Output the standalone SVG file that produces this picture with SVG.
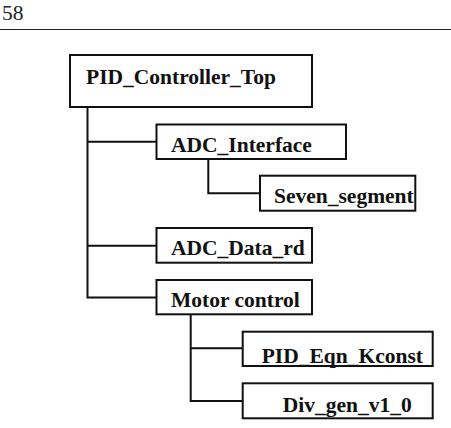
<svg xmlns="http://www.w3.org/2000/svg" width="451" height="428" viewBox="0 0 451 428">
<style>
.box{fill:#fff;stroke:#111;stroke-width:2}
.lbl{font-family:"Liberation Serif","Times New Roman",serif;font-weight:bold;font-size:21.5px;fill:#111}
.con{fill:none;stroke:#111;stroke-width:2}
</style>
<rect width="451" height="428" fill="#fff"/>
<text x="2" y="20" font-family="Liberation Serif,serif" font-size="21.5" fill="#222">58</text>
<line x1="0" y1="29.5" x2="451" y2="29.5" stroke="#222" stroke-width="1"/>
<g id="connectors">
<path class="con" d="M87.5 107 V297.5 H156.5 M87.5 141.7 H156.5 M87.5 245.7 H156.5"/>
<path class="con" d="M208.3 159 V193.3 H260"/>
<path class="con" d="M190.7 314.3 V401 H242.7 M190.7 348.3 H242.7"/>
</g>
<g id="PID_Controller_Top"><rect class="box" x="70" y="55" width="242" height="52"/><text class="lbl" x="86" y="84">PID_Controller_Top</text></g>
<g id="ADC_Interface"><rect class="box" x="156.5" y="124.5" width="189.5" height="34.5"/><text class="lbl" x="171" y="151.7">ADC_Interface</text></g>
<g id="Seven_segment"><rect class="box" x="260" y="175.7" width="155.3" height="35"/><text class="lbl" x="274" y="203.3">Seven_segment</text></g>
<g id="ADC_Data_rd"><rect class="box" x="156.5" y="228" width="155.5" height="34.7"/><text class="lbl" x="171" y="255.3">ADC_Data_rd</text></g>
<g id="Motor_control"><rect class="box" x="156.5" y="280" width="155.5" height="34.3"/><text class="lbl" x="171" y="307.3">Motor control</text></g>
<g id="PID_Eqn_Kconst"><rect class="box" x="242.7" y="331.7" width="190" height="34.3"/><text class="lbl" x="261.7" y="363.3">PID_Eqn_Kconst</text></g>
<g id="Div_gen_v1_0"><rect class="box" x="242.7" y="383.3" width="190" height="35"/><text class="lbl" x="282.7" y="411.7">Div_gen_v1_0</text></g>
</svg>
